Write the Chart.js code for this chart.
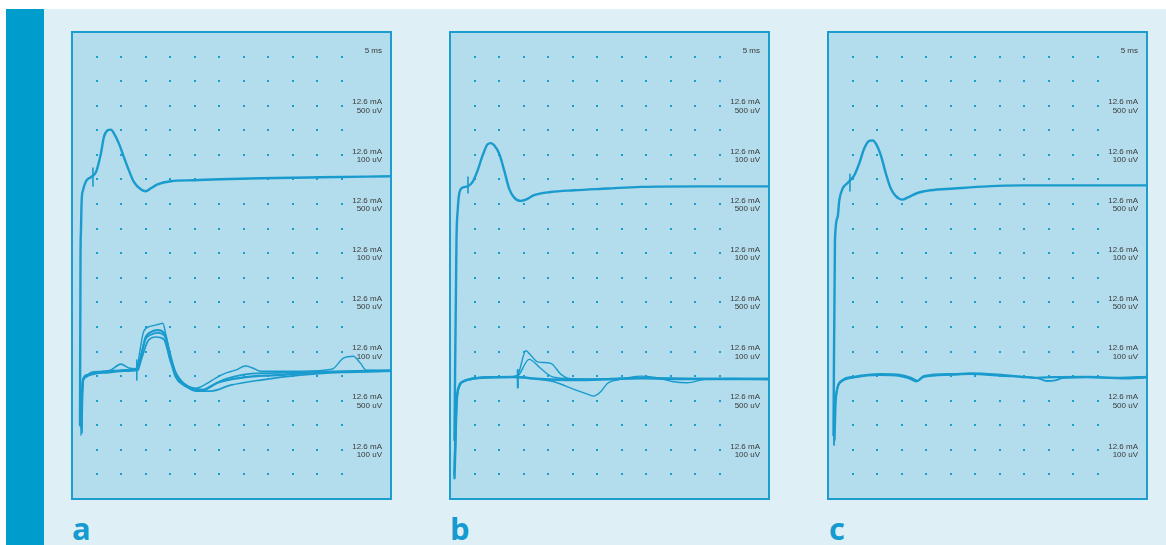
<!DOCTYPE html>
<html><head><meta charset="utf-8">
<script src="https://cdn.jsdelivr.net/npm/chart.js@4.4.0/dist/chart.umd.min.js"></script>
<style>
html,body{margin:0;padding:0;background:#fff;}
body{width:1166px;height:545px;position:relative;overflow:hidden;}
#bg{position:absolute;left:44px;top:9px;width:1122px;height:536px;background:#dfeff6;}
#bar{position:absolute;left:6px;top:9px;width:38px;height:536px;background:#009ccb;}
.panel{position:absolute;top:31px;width:321px;height:469px;}
.panel canvas{display:block;}
.letter{position:absolute;top:512px;font-family:"Open Sans";font-weight:700;font-size:31px;line-height:32px;color:#169bd0;}
</style></head>
<body>
<div id="bg"></div><div id="bar"></div>
<div class="panel" style="left:71px"><canvas id="ca" width="321" height="469"></canvas></div>
<div class="panel" style="left:449px"><canvas id="cb" width="321" height="469"></canvas></div>
<div class="panel" style="left:827px"><canvas id="cc" width="321" height="469"></canvas></div>
<div class="letter" style="left:72px">a</div>
<div class="letter" style="left:450px">b</div>
<div class="letter" style="left:829px">c</div>
<script>
// ---------- data: x = time (ms, 5 ms / division), y = screen divisions (0 bottom .. 19 top)
const panelLetters = ['a','b','c'];
const timeLabel = '5 ms';
const timeLabelLevel = 18;
const ampLabels = ['12.6 mA','12.6 mA','12.6 mA','12.6 mA','12.6 mA','12.6 mA','12.6 mA','12.6 mA'];
const voltLabels = ['500 uV','100 uV','500 uV','100 uV','500 uV','100 uV','500 uV','100 uV'];
const labelLevels = [16,14,12,10,8,6,4,2];
const dotTimes = [5,10,15,20,25,30,35,40,45,50,55];
const dotLevels = [1,2,3,4,5,6,7,8,9,10,11,12,13,14,15,16,17,18];

// panel a
const aUpper = [[1.63,3.0],[1.73,9.72],[1.83,10.93],[1.97,12.15],[2.24,12.56],[2.85,12.93],[3.86,13.10],[4.88,13.30],[5.89,14.06],[6.50,14.73],[7.26,15.00],[7.93,15.03],[8.54,14.88],[9.55,14.47],[10.57,13.91],[11.59,13.37],[12.60,12.90],[14.02,12.60],[15.04,12.52],[16.06,12.64],[17.42,12.80],[20.12,12.93],[24.80,12.97],[30.28,13.01],[38.41,13.05],[50.61,13.09],[65.04,13.13]];
const aUpperTick = [[4.27,13.46],[4.27,12.73]];
const aLower1 = [[1.93,2.89],[2.03,4.02],[2.24,4.84],[2.85,4.97],[3.86,5.13],[5.89,5.17],[7.93,5.20],[11.32,5.24],[13.01,5.28],[14.02,5.77],[15.04,6.59],[16.06,6.79],[17.42,6.87],[18.76,6.75],[20.12,5.65],[21.14,4.97],[22.83,4.63],[24.86,4.46],[26.22,4.40],[27.58,4.50],[29.61,4.73],[35.02,4.95],[41.81,5.04],[51.97,5.17],[65.04,5.22]];
const aLower2 = [[1.83,2.60],[2.03,4.10],[2.34,4.86],[3.05,5.00],[4.27,5.12],[6.50,5.16],[9.35,5.22],[12.40,5.26],[13.21,5.30],[13.82,6.01],[14.63,6.83],[16.06,7.03],[17.68,7.11],[18.50,7.15],[19.11,6.71],[20.12,5.85],[21.34,5.04],[23.17,4.67],[25.20,4.51],[27.24,4.67],[29.27,4.92],[31.30,5.12],[33.33,5.24],[35.37,5.41],[36.79,5.33],[38.41,5.20],[46.54,5.20],[53.0,5.28],[55.28,5.73],[57.32,5.81],[58.74,5.53],[60.0,5.24],[65.04,5.24]];
const aLower3 = [[2.03,2.70],[2.13,4.20],[2.44,4.90],[3.25,5.02],[4.88,5.10],[7.52,5.14],[10.57,5.20],[13.42,5.24],[14.02,5.60],[15.45,6.42],[17.07,6.59],[18.70,6.50],[20.12,5.57],[22.15,4.84],[25.20,4.39],[28.25,4.39],[32.32,4.63],[38.41,4.84],[46.54,5.04],[55.0,5.15],[65.04,5.20]];
const aLower4 = [[1.93,2.80],[2.03,4.05],[2.24,4.88],[3.05,5.05],[4.88,5.15],[7.93,5.25],[9.96,5.49],[11.59,5.33],[13.01,5.30],[13.62,5.50],[14.83,6.45],[16.06,6.68],[17.48,6.76],[18.90,6.62],[20.32,5.60],[21.54,4.94],[23.37,4.60],[25.40,4.48],[27.0,4.45],[28.5,4.60],[30.8,4.85],[33.0,4.98],[36.6,5.10],[40.0,5.12],[47.0,5.15],[65.04,5.22]];
const aLowerTick = [[13.21,5.65],[13.21,4.84]];

// panel b
const bUpper = [[0.91,2.40],[1.32,10.53],[1.57,11.75],[1.89,12.43],[2.58,12.67],[3.60,12.72],[4.61,12.90],[5.63,13.37],[6.65,13.98],[7.66,14.43],[8.33,14.48],[9.00,14.39],[10.02,14.05],[11.04,13.37],[12.05,12.63],[13.07,12.26],[14.43,12.13],[15.45,12.18],[17.13,12.36],[20.53,12.49],[25.26,12.56],[32.05,12.63],[38.82,12.70],[51.02,12.72],[65.04,12.72]];
const bUpperTick = [[3.66,13.10],[3.66,12.45]];
const bLower1 = [[0.91,0.85],[1.12,2.40],[1.32,3.82],[1.83,4.57],[2.58,4.77],[4.27,4.88],[8.33,4.95],[13.07,4.96],[18.50,4.88],[25.26,4.84],[32.05,4.87],[38.82,4.92],[45.59,4.88],[65.04,4.88]];
const bLower2 = [[0.81,1.00],[1.02,2.60],[1.32,3.90],[1.93,4.60],[2.78,4.80],[4.47,4.90],[8.54,4.96],[12.5,4.98],[13.76,5.04],[15.45,6.03],[16.46,5.85],[17.82,5.58],[20.53,5.52],[22.56,5.08],[23.92,4.92],[27.0,4.86],[33.0,4.90],[40.0,4.94],[50.0,4.90],[65.04,4.90]];
const bLower3 = [[1.02,1.20],[1.22,2.80],[1.42,4.00],[2.03,4.62],[2.98,4.82],[4.67,4.92],[8.74,4.97],[12.8,4.97],[13.76,5.00],[16.12,5.68],[18.50,5.31],[20.53,5.00],[24.0,4.90],[30.0,4.88],[40.0,4.90],[65.04,4.86]];
const bLower4 = [[0.91,0.95],[1.12,2.50],[1.32,3.85],[1.83,4.55],[2.58,4.75],[4.27,4.86],[8.33,4.93],[13.07,4.95],[18.50,4.86],[21.20,4.77],[25.26,4.46],[27.99,4.27],[29.33,4.19],[30.69,4.36],[32.05,4.70],[34.76,4.87],[38.82,5.00],[41.46,4.96],[45.53,4.77],[48.31,4.73],[52.38,4.88],[58.0,4.90],[65.04,4.86]];
const bLowerTick = [[13.82,5.24],[13.82,4.54]];

// panel c
const cUpper = [[1.12,2.60],[1.42,10.53],[1.97,11.48],[2.30,12.15],[2.99,12.63],[4.00,12.86],[5.35,13.17],[6.36,13.65],[7.38,14.26],[8.39,14.57],[9.09,14.59],[9.76,14.46],[10.77,13.98],[11.79,13.24],[12.80,12.63],[13.82,12.32],[15.18,12.18],[16.20,12.26],[18.23,12.45],[20.93,12.56],[25.67,12.63],[32.46,12.72],[39.23,12.76],[65.04,12.76]];
const cUpperTick = [[4.47,13.21],[4.47,12.53]];
const cLower1 = [[1.32,2.40],[1.52,3.82],[1.63,4.16],[1.97,4.57],[2.99,4.84],[5.35,4.97],[10.77,5.08],[14.84,5.04],[16.87,4.93],[18.23,4.81],[19.57,5.00],[25.67,5.08],[29.06,5.11],[35.83,5.04],[42.62,4.93],[46.0,4.96],[52.78,4.97],[59.55,4.93],[65.04,4.97]];
const cLower2 = [[1.22,2.20],[1.42,3.70],[1.57,4.10],[1.93,4.52],[2.90,4.80],[5.2,4.94],[10.5,5.04],[14.6,5.00],[16.6,4.90],[18.0,4.78],[19.4,4.96],[25.0,5.05],[29.0,5.08],[36.0,5.00],[42.62,4.92],[44.65,4.80],[46.54,4.84],[47.76,4.92],[53.0,4.95],[60.0,4.90],[65.04,4.94]];

// ---------- styles
const TRACE = 'rgb(26,155,206)';
const PANEL_FILL = '#b3dcec';
const DOT = '#1a9fd3';
const BORDER = '#1b9dcf';
const TEXT = '#3a3a3a';

const scopePlugin = {
  id: 'scope',
  beforeDraw(chart) {
    const {ctx, chartArea: a, scales: {x, y}} = chart;
    ctx.save();
    ctx.fillStyle = PANEL_FILL;
    ctx.fillRect(a.left, a.top, a.width, a.height);
    ctx.fillStyle = DOT;
    for (const t of dotTimes) {
      for (const v of dotLevels) {
        ctx.fillRect(Math.round(x.getPixelForValue(t)) - 1, Math.round(y.getPixelForValue(v)) - 1, 2, 2);
      }
    }
    ctx.fillStyle = TEXT;
    ctx.font = '8px "Liberation Sans", Arial, sans-serif';
    ctx.textAlign = 'right';
    ctx.textBaseline = 'middle';
    const rx = a.right - 9;
    ctx.fillText(timeLabel, rx, y.getPixelForValue(timeLabelLevel) - 6);
    labelLevels.forEach((lv, i) => {
      const py = y.getPixelForValue(lv);
      ctx.fillText(ampLabels[i], rx, py - 3.5);
      ctx.fillText(voltLabels[i], rx, py + 4.8);
    });
    ctx.restore();
  },
  afterDatasetsDraw(chart) {
    const {ctx, chartArea: a} = chart;
    ctx.save();
    ctx.strokeStyle = BORDER;
    ctx.lineWidth = 2;
    ctx.strokeRect(a.left, a.top, a.width, a.height);
    ctx.restore();
  }
};

function toXY(arr) { return arr.map(p => ({x: p[0], y: p[1]})); }

function makeChart(id, traces) {
  const datasets = traces.map(tr => ({
    data: toXY(tr.d),
    borderColor: TRACE,
    borderWidth: tr.w,
    pointRadius: 0,
    fill: false,
    cubicInterpolationMode: tr.tick ? 'default' : 'monotone',
    tension: tr.tick ? 0 : 0.4,
    borderCapStyle: 'round',
    borderJoinStyle: 'round'
  }));
  new Chart(document.getElementById(id), {
    type: 'line',
    data: {datasets},
    options: {
      responsive: false,
      animation: false,
      devicePixelRatio: 1,
      layout: {padding: 1},
      parsing: true,
      plugins: {legend: {display: false}, tooltip: {enabled: false}},
      scales: {
        x: {type: 'linear', min: 0, max: 65, display: false},
        y: {type: 'linear', min: 0, max: 19, display: false}
      }
    },
    plugins: [scopePlugin]
  });
}

makeChart('ca', [
  {d: aLower3, w: 1.7}, {d: aLower4, w: 1.7}, {d: aLower2, w: 1.4}, {d: aLower1, w: 2.3},
  {d: aLowerTick, w: 1.6, tick: true},
  {d: aUpper, w: 2.4}, {d: aUpperTick, w: 1.6, tick: true}
]);
makeChart('cb', [
  {d: bLower2, w: 1.4}, {d: bLower3, w: 1.4}, {d: bLower4, w: 1.4}, {d: bLower1, w: 2.5},
  {d: bLowerTick, w: 2.2, tick: true},
  {d: bUpper, w: 2.4}, {d: bUpperTick, w: 1.6, tick: true}
]);
makeChart('cc', [
  {d: cLower2, w: 1.8}, {d: cLower1, w: 2.3},
  {d: cUpper, w: 2.4}, {d: cUpperTick, w: 1.6, tick: true}
]);
</script>
</body></html>
